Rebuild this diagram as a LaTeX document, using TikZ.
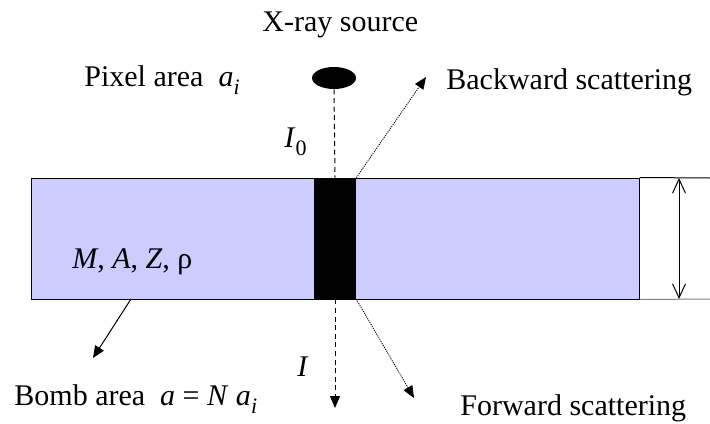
\documentclass[tikz,border=0pt]{standalone}
\usepackage{fontspec}
\setmainfont{Liberation Serif}
\usetikzlibrary{positioning,arrows.meta,shapes.geometric}
\definecolor{bombblue}{HTML}{CCCCFF}
\newcommand{\lowidx}[2]{\textit{#1}\raisebox{-0.6ex}{\fontsize{11}{13}\selectfont #2}}

\begin{document}
\begin{tikzpicture}[x=0.5pt,y=-0.5pt,
  every node/.style={font=\fontsize{15}{18}\selectfont},
  slab/.style={draw, fill=bombblue, line width=0.5pt, minimum width=304pt, minimum height=60.5pt, inner sep=0pt},
  pixel/.style={fill=black, minimum width=21pt, minimum height=60.5pt, inner sep=0pt},
  source/.style={ellipse, fill=black, minimum width=22pt, minimum height=11pt, inner sep=0pt},
  beam/.style={line width=0.5pt, dash pattern=on 2.5pt off 1.8pt},
  scatter/.style={line width=0.4pt, dash pattern=on 0.6pt off 0.5pt, -{Triangle[length=6pt,width=5pt]}},
  pointer/.style={line width=0.5pt, -{Triangle[length=6pt,width=5pt]}},
  lbl/.style={anchor=base west, inner sep=0pt}]
  \useasboundingbox (0,0) rectangle (710,423);
  % slab and pixel column
  \node[slab] (bomb) at (335,238.5) {};
  \node[pixel] (pix) at (335,238.5) {};
  \node[source] (src) at (334,78) {};
  % labels
  \node[lbl] (title) at (262,32) {X-ray source};
  \node[lbl] (pixlbl) at (84,86) {Pixel area~~\lowidx{a}{\textit{i}}};
  \node[lbl] (backlbl) at (446,89) {Backward scattering};
  \node[lbl] (i0) at (284,147) {\lowidx{I}{0}};
  \node[lbl] (matlbl) at (72,268) {\textit{M}, \textit{A}, \textit{Z}, ρ};
  \node[lbl] (bomblbl) at (14,405) {Bomb area~~\textit{a} = \textit{N} \lowidx{a}{\textit{i}}};
  \node[lbl] (ilbl) at (297,376) {\textit{I}};
  \node[lbl] (fwdlbl) at (460,415) {Forward scattering};
  % free ends
  \coordinate (beamend) at (335,408);
  \coordinate (backtip) at (426,77);
  \coordinate (fwdtip) at (414,398);
  \coordinate (bombfoot) at (131,299);
  \coordinate (bombtip) at (93,358);
  \coordinate (topend) at (710,178);
  \coordinate (botend) at (710,299);
  \coordinate (dtop) at (679,178);
  \coordinate (dbot) at (679,299);
  % rays
  \draw[beam] (src.south) -- (pix.north);
  \draw[beam, -{Triangle[length=6pt,width=5pt]}] (pix.south) -- (beamend);
  \draw[scatter] (pix.north east) -- (backtip);
  \draw[scatter] (pix.south east) -- (fwdtip);
  \draw[pointer] (bombfoot) -- (bombtip);
  % thickness
  \draw[line width=0.5pt] (bomb.north east) -- (topend);
  \draw[line width=0.5pt, gray] (bomb.south east) -- (botend);
  \draw[line width=0.5pt, {Straight Barb[length=7pt,width=6.5pt]}-{Straight Barb[length=7pt,width=6.5pt]}] (dtop) -- (dbot);
\end{tikzpicture}
\end{document}
